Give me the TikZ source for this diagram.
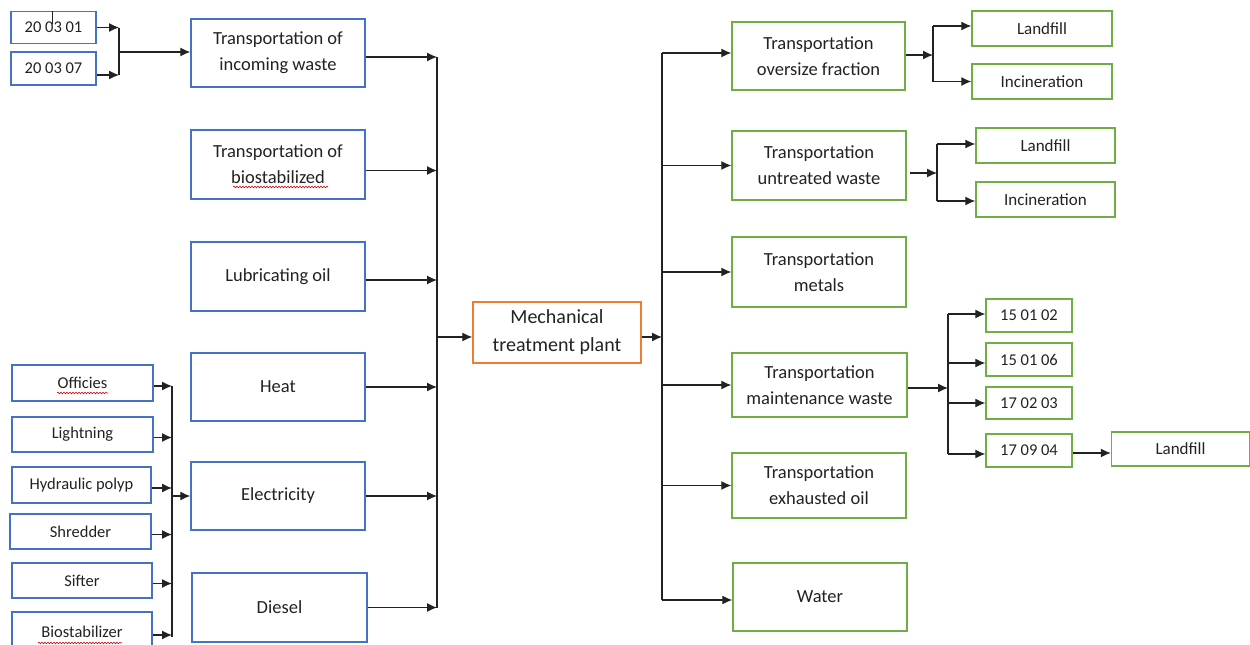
\documentclass[tikz,border=0pt]{standalone}
\usepackage{fontspec}
\setmainfont{Carlito}
\usetikzlibrary{arrows.meta,decorations.pathmorphing}
\definecolor{boxblue}{HTML}{4472C4}
\definecolor{boxgreen}{HTML}{70AD47}
\definecolor{boxorange}{HTML}{ED7D31}
\definecolor{txt}{HTML}{222222}
\definecolor{wirecol}{HTML}{222222}
\begin{document}
\begin{tikzpicture}[x=1pt,y=-1pt,
  box/.style={draw, line width=1.4pt, align=center, inner sep=0pt, text=txt,
    font=\fontsize{18.5}{26}\selectfont},
  bbox/.style={box, draw=boxblue},
  gbox/.style={box, draw=boxgreen},
  obox/.style={box, draw=boxorange, font=\fontsize{20}{28}\selectfont},
  small/.style={font=\fontsize{16.5}{20}\selectfont},
  dest/.style={font=\fontsize{17}{20}\selectfont},
  bigbox/.style={minimum width=174, minimum height=68},
  flow/.style={draw=wirecol, line width=1.2pt, -{Latex[length=10pt,width=9pt]}},
  wire/.style={draw=wirecol, line width=1.2pt},
  squig/.style={draw=red!85!black, line width=0.6pt,
    decorate, decoration={snake, amplitude=0.8pt, segment length=3pt}}
]
\useasboundingbox (0,0) rectangle (1250,645);

% ---------- inputs: waste codes ----------
\node[bbox, small, minimum width=85, minimum height=32] (c1) at (53.5,27.5) {20 03 01};
\node[bbox, small, minimum width=85, minimum height=33] (c2) at (53.5,68.5) {20 03 07};
\draw[wire, line width=0.9pt] (c1.north) ++(-1.5,0) -- ++(0,13);

% ---------- inputs: main column ----------
\node[bbox, bigbox] (inc) at (278,53) {Transportation of\\incoming waste};
\node[bbox, bigbox, minimum height=69] (bio) at (278,164.5) {Transportation of\\biostabilized};
\node[bbox, bigbox, minimum height=69] (lub) at (278,276.5) {Lubricating oil};
\node[bbox, bigbox] (heat) at (278,387) {Heat};
\node[bbox, bigbox] (elec) at (278,496) {Electricity};
\node[bbox, bigbox, minimum width=175, minimum height=69] (dies) at (279.5,607.5) {Diesel};

% ---------- electricity consumers ----------
\node[bbox, small, minimum width=141, minimum height=36] (off) at (82.5,383) {Officies};
\node[bbox, small, minimum width=141, minimum height=35] (lig) at (82.5,434.5) {Lightning};
\node[bbox, small, minimum width=139, minimum height=36] (hyd) at (81.5,485) {Hydraulic polyp};
\node[bbox, small, minimum width=141, minimum height=35] (shr) at (80.5,531.5) {Shredder};
\node[bbox, small, minimum width=140, minimum height=35] (sif) at (82,580.5) {Sifter};
\node[bbox, small, minimum width=140, minimum height=40] (bst) at (82,632) {Biostabilizer};

% ---------- plant ----------
\node[obox, minimum width=168, minimum height=61] (mech) at (557,332.5) {Mechanical\\treatment plant};

% ---------- outputs ----------
\node[gbox, minimum width=173, minimum height=68] (over) at (818.5,56) {Transportation\\oversize fraction};
\node[gbox, minimum width=174, minimum height=69] (unt) at (819,165.5) {Transportation\\untreated waste};
\node[gbox, minimum width=174, minimum height=70] (met) at (819,272) {Transportation\\metals};
\node[gbox, minimum width=175, minimum height=64] (mnt) at (819.5,385) {Transportation\\maintenance waste};
\node[gbox, minimum width=174, minimum height=65] (exh) at (819,485.5) {Transportation\\exhausted oil};
\node[gbox, minimum width=174, minimum height=68] (wat) at (820,597) {Water};

% ---------- destinations ----------
\node[gbox, dest, minimum width=140, minimum height=35] (lf1) at (1042,28.5) {Landfill};
\node[gbox, dest, minimum width=140, minimum height=35] (in1) at (1042,81.5) {Incineration};
\node[gbox, dest, minimum width=139, minimum height=35] (lf2) at (1045.5,145.5) {Landfill};
\node[gbox, dest, minimum width=139, minimum height=35] (in2) at (1045.5,199.5) {Incineration};
\node[gbox, small, minimum width=86, minimum height=33] (k1) at (1029,315.5) {15 01 02};
\node[gbox, small, minimum width=86, minimum height=33] (k2) at (1029,359.5) {15 01 06};
\node[gbox, small, minimum width=86, minimum height=32] (k3) at (1029,403) {17 02 03};
\node[gbox, small, minimum width=86, minimum height=33] (k4) at (1029,450.5) {17 09 04};
\node[gbox, dest, minimum width=138, minimum height=34] (lf3) at (1180.5,449) {Landfill};

% ---------- junction lines ----------
\coordinate (ja) at (119,52);
\coordinate (jl) at (437,0);
\coordinate (jd) at (172,0);
\coordinate (jr) at (662,0);
\coordinate (jb) at (933,0);
\coordinate (jc) at (937,0);
\coordinate (je) at (948,0);

% waste codes into incoming waste
\draw[flow] (c1.east) -- (c1.east -| ja);
\draw[flow] ([yshift=-6.5pt]c2.east) -- ([yshift=-6.5pt]c2.east -| ja);
\draw[wire] (c1.east -| ja) -- ([yshift=-6.5pt]c2.east -| ja);
\draw[flow] (ja) -- (ja -| inc.west);

% consumers into electricity
\foreach \n in {off,lig,hyd,shr,sif,bst}
  \draw[flow] ([yshift=-3pt]\n.east) -- ([yshift=-3pt]\n.east -| jd);
\draw[wire] ([yshift=-3pt]off.east -| jd) -- ([yshift=-5pt]bst.east -| jd);
\draw[flow] (elec.west -| jd) -- (elec.west);

% inputs into the plant
\draw[flow] ([yshift=-4pt]inc.east) -- ([yshift=-4pt]inc.east -| jl);
\draw[flow] ([yshift=-6pt]bio.east) -- ([yshift=-6pt]bio.east -| jl);
\draw[flow] ([yshift=-3.5pt]lub.east) -- ([yshift=-3.5pt]lub.east -| jl);
\draw[flow] (heat.east) -- (heat.east -| jl);
\draw[flow] (elec.east) -- (elec.east -| jl);
\draw[flow] (dies.east) -- (dies.east -| jl);
\draw[wire] ([yshift=-4pt]inc.east -| jl) -- (dies.east -| jl);
\draw[flow] ([yshift=-4.5pt]mech.west -| jl) -- ([yshift=-4.5pt]mech.west);

% plant into outputs
\draw[flow] ([yshift=-4.5pt]mech.east) -- ([yshift=-4.5pt]mech.east -| jr);
\draw[wire] ([yshift=3pt]over.west -| jr) -- ([yshift=-3pt]wat.west -| jr);
\draw[flow] ([yshift=3pt]over.west -| jr) -- ([yshift=3pt]over.west);
\draw[flow] (unt.west -| jr) -- (unt.west);
\draw[flow] (met.west -| jr) -- (met.west);
\draw[flow] (mnt.west -| jr) -- (mnt.west);
\draw[flow] (exh.west -| jr) -- (exh.west);
\draw[flow] ([yshift=-3pt]wat.west -| jr) -- ([yshift=-3pt]wat.west);

% oversize fraction
\draw[flow] ([yshift=1pt]over.east) -- ([yshift=1pt]over.east -| jb);
\draw[wire] ([yshift=2.5pt]lf1.west -| jb) -- (in1.west -| jb);
\draw[flow] ([yshift=2.5pt]lf1.west -| jb) -- ([yshift=2.5pt]lf1.west);
\draw[flow] (in1.west -| jb) -- (in1.west);

% untreated waste
\draw[flow] ([xshift=3pt,yshift=-7.5pt]unt.east) -- ([yshift=-7.5pt]unt.east -| jc);
\draw[wire] ([yshift=1.5pt]lf2.west -| jc) -- ([yshift=-1.5pt]in2.west -| jc);
\draw[flow] ([yshift=1.5pt]lf2.west -| jc) -- ([yshift=1.5pt]lf2.west);
\draw[flow] ([yshift=-1.5pt]in2.west -| jc) -- ([yshift=-1.5pt]in2.west);

% maintenance waste
\draw[flow] ([yshift=-3pt]mnt.east) -- ([yshift=-3pt]mnt.east -| je);
\draw[wire] ([yshift=1.5pt]k1.west -| je) -- ([yshift=-3.5pt]k4.west -| je);
\draw[flow] ([yshift=1.5pt]k1.west -| je) -- ([yshift=1.5pt]k1.west);
\draw[flow] ([yshift=-3.5pt]k2.west -| je) -- ([yshift=-3.5pt]k2.west);
\draw[flow] (k3.west -| je) -- (k3.west);
\draw[flow] ([yshift=-3.5pt]k4.west -| je) -- ([yshift=-3.5pt]k4.west);
\draw[flow] ([yshift=-2.5pt]k4.east) -- ([yshift=-2.5pt]k4.east -| lf3.west);

% spell-check marks
\draw[squig] (233,187) -- (328,187);
\draw[squig] (57,393) -- (108,393);
\draw[squig] (38,643) -- (122,643);
\end{tikzpicture}
\end{document}
